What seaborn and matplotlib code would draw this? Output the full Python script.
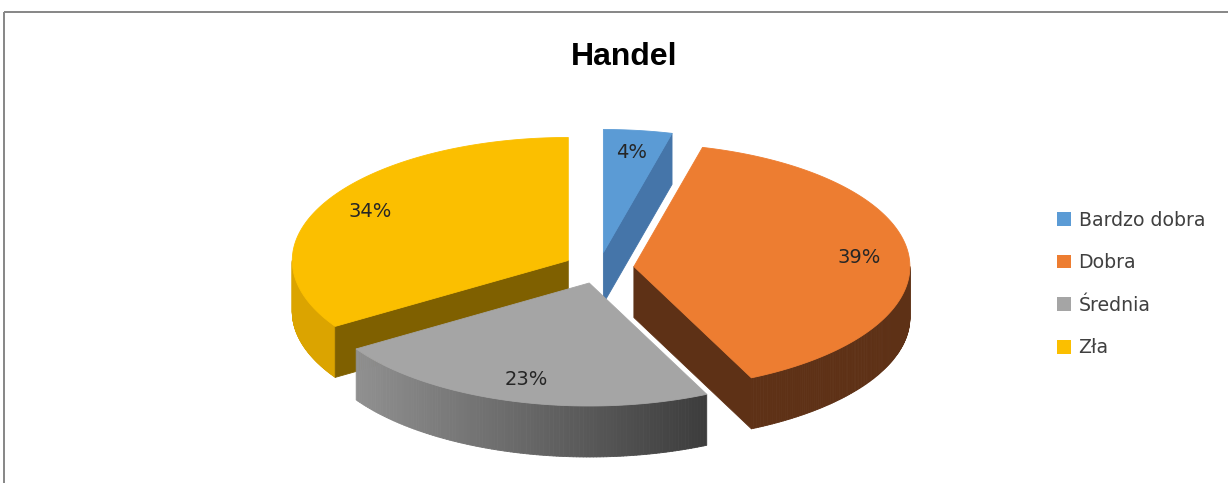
import numpy as np
import matplotlib
matplotlib.use("Agg")
import matplotlib.pyplot as plt
from matplotlib.patches import Polygon, Patch
import seaborn as sns

# Data
title = "Handel"
categories = ["Bardzo dobra", "Dobra", "Średnia", "Zła"]
shares = [4, 39, 23, 34]
labels = ["4%", "39%", "23%", "34%"]

sns.set_theme(style="white")
plt.rcParams["font.family"] = ["DejaVu Sans"]

top_colors = sns.color_palette(["#5B9BD5", "#ED7D31", "#A5A5A5", "#FBBF00"])
cut_colors = ["#4575A9", "#5E3116", "#8C8C8C", "#7F6000"]
side_from = ["#4575A9", "#5E3116", "#909090", "#DBA400"]
side_to = ["#4575A9", "#5E3116", "#3C3C3C", "#DBA400"]

W, H = 1228, 483
fig = plt.figure(figsize=(W / 100, H / 100), dpi=100)
ax = fig.add_axes([0, 0, 1, 1])
ax.set_xlim(0, W)
ax.set_ylim(H, 0)
ax.axis("off")

# pie geometry (pixel space, y grows downward)
cx, cy = 599, 268
ra, rb = 276, 123       # ellipse radii of the top face
depth = 51              # thickness of the pie
explode = 0.127         # radial explosion as a fraction of the radius


def rim(theta, ox, oy, r=1.0, dz=0.0):
    t = np.radians(theta)
    return cx + ox + r * ra * np.sin(t), cy + oy - r * rb * np.cos(t) + dz


def mix(c1, c2, f):
    a = np.array(matplotlib.colors.to_rgb(c1))
    b = np.array(matplotlib.colors.to_rgb(c2))
    return tuple(a + (b - a) * f)


def poly(pts, color, z):
    ax.add_patch(Polygon(pts, closed=True, facecolor=color, edgecolor=color,
                         linewidth=0.6, zorder=z, joinstyle="round"))


total = float(sum(shares))
bounds = np.concatenate([[0], np.cumsum(shares)]) / total * 360.0
slices = []
for i in range(len(shares)):
    s, e = bounds[i], bounds[i + 1]
    m = (s + e) / 2
    ox = explode * ra * np.sin(np.radians(m))
    oy = -explode * rb * np.cos(np.radians(m))
    slices.append((i, s, e, m, ox, oy))

# far slices first
order = sorted(slices, key=lambda t: rim(t[3], t[4], t[5], r=0.5)[1])
for rank, (i, s, e, m, ox, oy) in enumerate(order):
    z = 2 + rank * 3
    c0 = rim(0, ox, oy, r=0)
    # outer wall, only the part facing the viewer, shaded left to right
    a0, a1 = max(s, 90.0), min(e, 270.0)
    if a1 > a0:
        ts = np.linspace(a0, a1, 120)
        xs = np.array([rim(t, ox, oy)[0] for t in ts])
        xmin, xmax = xs.min(), xs.max()
        for t1, t2 in zip(ts[:-1], ts[1:]):
            p1 = rim(t1, ox, oy)
            p2 = rim(t2, ox, oy)
            f = ((p1[0] + p2[0]) / 2 - xmin) / max(xmax - xmin, 1)
            col = mix(side_from[i], side_to[i], np.clip(f, 0, 1))
            poly([p1, p2, (p2[0], p2[1] + depth), (p1[0], p1[1] + depth)], col, z)
    # radial cut faces
    for ang, visible in ((s, np.sin(np.radians(s)) < -1e-6),
                         (e, np.sin(np.radians(e)) > 1e-6)):
        if visible:
            p = rim(ang, ox, oy)
            poly([c0, p, (p[0], p[1] + depth), (c0[0], c0[1] + depth)],
                 cut_colors[i], z + 1)
    # top face
    ts = np.linspace(s, e, max(8, int((e - s) * 2)))
    pts = [c0] + [rim(t, ox, oy) for t in ts]
    poly(pts, top_colors[i], z + 2)
    # value label
    lx, ly = rim(m, ox, oy, r=0.82)
    ax.text(lx, ly, labels[i], ha="center", va="center", fontsize=14,
            color="#262626", zorder=50)

# chart frame
ax.plot([4, W], [12, 12], color="#868686", lw=1.4, zorder=60, solid_capstyle="butt")
ax.plot([4, 4], [12, H], color="#868686", lw=1.4, zorder=60, solid_capstyle="butt")

fig.text(624 / W, 1 - 57 / H, title, ha="center", va="center",
         fontsize=23, fontweight="bold", family="Liberation Sans", color="#000000")

handles = [Patch(facecolor=top_colors[i], edgecolor="none") for i in range(len(categories))]
fig.legend(handles, categories, loc="center left", bbox_to_anchor=(1040 / W, 1 - 284 / H),
           frameon=False, fontsize=13.6, handlelength=0.72, handleheight=0.72,
           handletextpad=0.42, labelspacing=1.25, labelcolor="#404040")

fig.savefig("out.png", dpi=100, facecolor="white")
